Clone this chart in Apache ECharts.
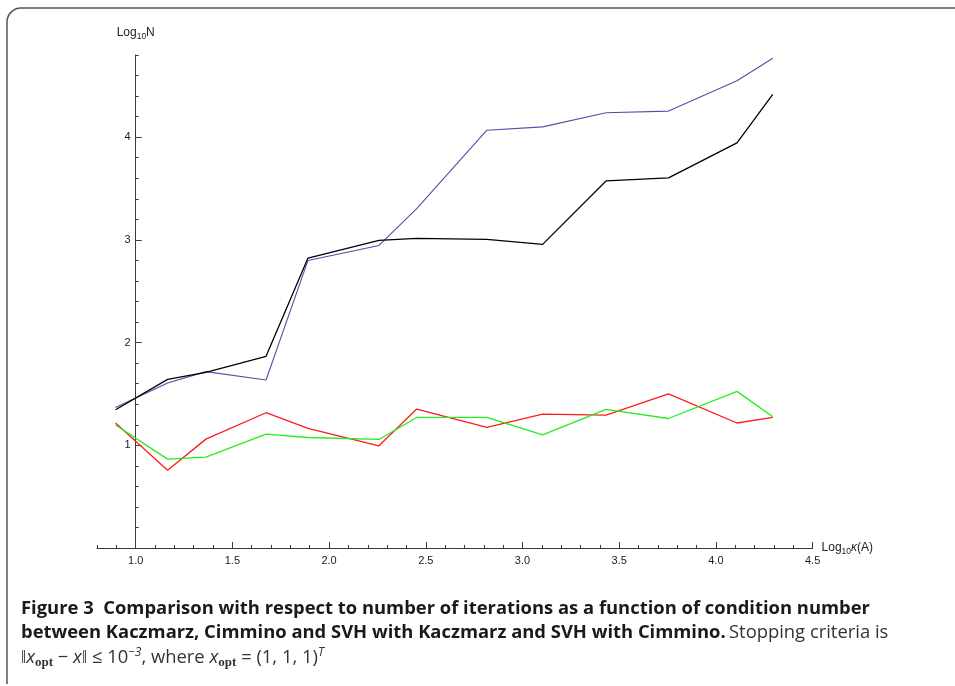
<!DOCTYPE html>
<html>
<head>
<meta charset="utf-8">
<script src="https://cdn.jsdelivr.net/npm/echarts@6/dist/echarts.min.js"></script>
<style>
  html, body { margin: 0; padding: 0; background: #fff; }
  #chart { width: 955px; height: 686px; }
</style>
</head>
<body>
<div id="chart"></div>
<script>
// log10 of condition number (x) and log10 of iteration count (y)
var kappa = [0.896, 1.165, 1.363, 1.674, 1.891, 2.258, 2.453, 2.816, 3.104, 3.432, 3.755, 4.109, 4.294];
var kaczmarz = [1.346, 1.642, 1.71, 1.866, 2.823, 2.995, 3.015, 3.005, 2.956, 3.574, 3.603, 3.944, 4.417];
var cimmino = [1.369, 1.607, 1.717, 1.636, 2.80, 2.946, 3.304, 4.068, 4.10, 4.237, 4.254, 4.549, 4.768];
var svhKaczmarz = [1.217, 0.758, 1.06, 1.317, 1.164, 0.995, 1.353, 1.174, 1.304, 1.294, 1.50, 1.217, 1.271];
var svhCimmino = [1.197, 0.865, 0.885, 1.109, 1.076, 1.057, 1.271, 1.271, 1.102, 1.349, 1.261, 1.525, 1.278];

var xMajorTicks = [1.0, 1.5, 2.0, 2.5, 3.0, 3.5, 4.0, 4.5];
var xMinorTicks = [0.8, 0.9, 1.1, 1.2, 1.3, 1.4, 1.6, 1.7, 1.8, 1.9, 2.1, 2.2, 2.3, 2.4,
                   2.6, 2.7, 2.8, 2.9, 3.1, 3.2, 3.3, 3.4, 3.6, 3.7, 3.8, 3.9, 4.1, 4.2, 4.3, 4.4];
var yMajorTicks = [1, 2, 3, 4];
var yMinorTicks = [0.2, 0.4, 0.6, 0.8, 1.2, 1.4, 1.6, 1.8, 2.2, 2.4, 2.6, 2.8,
                   3.2, 3.4, 3.6, 3.8, 4.2, 4.4, 4.6, 4.8];

function pairs(ys) {
    var out = [];
    for (var i = 0; i < kappa.length; i++) {
        out.push([kappa[i], ys[i]]);
    }
    return out;
}

var axisColor = '#3a3a3a';
var labelFont = 'Liberation Sans';
var capFont = 'Open Sans';
var capSize = 18.4;

var option = {
    animation: false,
    backgroundColor: '#fff',
    grid: [
        { left: 97, right: 142.4, top: 55, bottom: 138 },
        { left: 135.7, right: 142.4, top: 55, bottom: 138 }
    ],
    xAxis: [
        {   // axis line + minor ticks
            type: 'value', gridIndex: 0, position: 'bottom', min: 0.8, max: 4.5,
            axisLine: { show: true, lineStyle: { color: axisColor, width: 1 } },
            axisTick: { show: true, inside: true, length: 3, customValues: xMinorTicks, lineStyle: { color: axisColor } },
            axisLabel: { show: false },
            splitLine: { show: false },
            name: '{a|Log}{s|10}{k|κ}{a|(A)}',
            nameLocation: 'end',
            nameGap: 9,
            nameTextStyle: {
                rich: {
                    a: { fontFamily: labelFont, fontSize: 12, color: '#222' },
                    k: { fontFamily: labelFont, fontSize: 12, fontStyle: 'italic', color: '#222' },
                    s: { fontFamily: labelFont, fontSize: 8.5, color: '#222', padding: [7, 0, 0, 0] }
                }
            }
        },
        {   // major ticks + labels
            type: 'value', gridIndex: 0, position: 'bottom', min: 0.8, max: 4.5,
            axisLine: { show: false },
            axisTick: { show: true, inside: true, length: 6, customValues: xMajorTicks, lineStyle: { color: axisColor } },
            axisLabel: {
                show: true, customValues: xMajorTicks, margin: 7,
                fontFamily: labelFont, fontSize: 11, color: '#222',
                formatter: function (v) { return v.toFixed(1); }
            },
            splitLine: { show: false }
        },
        { type: 'value', gridIndex: 1, min: 0, max: 1, show: false }
    ],
    yAxis: [
        { type: 'value', gridIndex: 0, min: 0, max: 4.8, show: false },
        {   // axis line + minor ticks, sitting at x = 1.0
            type: 'value', gridIndex: 1, position: 'left', min: 0, max: 4.8,
            axisLine: { show: true, lineStyle: { color: axisColor, width: 1 } },
            axisTick: { show: true, inside: true, length: 3, customValues: yMinorTicks, lineStyle: { color: axisColor } },
            axisLabel: { show: false },
            splitLine: { show: false },
            name: '{a|Log}{s|10}{a|N}',
            nameLocation: 'end',
            nameGap: 14,
            nameTextStyle: {
                rich: {
                    a: { fontFamily: labelFont, fontSize: 12, color: '#222' },
                    s: { fontFamily: labelFont, fontSize: 8.5, color: '#222', padding: [7, 0, 0, 0] }
                }
            }
        },
        {
            type: 'value', gridIndex: 1, position: 'left', min: 0, max: 4.8,
            axisLine: { show: false },
            axisTick: { show: true, inside: true, length: 6, customValues: yMajorTicks, lineStyle: { color: axisColor } },
            axisLabel: {
                show: true, customValues: yMajorTicks, margin: 5,
                fontFamily: labelFont, fontSize: 11, color: '#222'
            },
            splitLine: { show: false }
        }
    ],
    series: [
        {
            name: 'Cimmino', type: 'line', xAxisIndex: 0, yAxisIndex: 0,
            data: pairs(cimmino), showSymbol: false, symbol: 'none',
            lineStyle: { color: '#5050a8', width: 1.1 }
        },
        {
            name: 'Kaczmarz', type: 'line', xAxisIndex: 0, yAxisIndex: 0,
            data: pairs(kaczmarz), showSymbol: false, symbol: 'none',
            lineStyle: { color: '#000', width: 1.3 }
        },
        {
            name: 'SVH with Kaczmarz', type: 'line', xAxisIndex: 0, yAxisIndex: 0,
            data: pairs(svhKaczmarz), showSymbol: false, symbol: 'none',
            lineStyle: { color: '#ff1a1a', width: 1.3 }
        },
        {
            name: 'SVH with Cimmino', type: 'line', xAxisIndex: 0, yAxisIndex: 0,
            data: pairs(svhCimmino), showSymbol: false, symbol: 'none',
            lineStyle: { color: '#22ee22', width: 1.3 }
        }
    ],
    graphic: [
        {
            type: 'rect', silent: true,
            shape: { x: 7, y: 8, width: 1000, height: 720, r: [14, 0, 0, 0] },
            style: { fill: 'none', stroke: '#555', lineWidth: 1.5 }
        },
        {   // frame stops a few pixels above the bottom edge
            type: 'rect', silent: true,
            shape: { x: 0, y: 684, width: 955, height: 10 },
            style: { fill: '#fff' }
        },
        {
            type: 'text', left: 21, top: 600,
            style: {
                text: 'Figure 3  Comparison with respect to number of iterations as a function of condition number',
                fontFamily: capFont, fontWeight: 'bold', fontSize: capSize, fill: '#1a1a1a'
            }
        },
        {
            type: 'text', left: 21, top: 624,
            style: {
                text: '{b|between Kaczmarz, Cimmino and SVH with Kaczmarz and SVH with Cimmino.} {n|Stopping criteria is}',
                rich: {
                    b: { fontFamily: capFont, fontWeight: 'bold', fontSize: capSize, fill: '#1a1a1a' },
                    n: { fontFamily: capFont, fontSize: capSize, fill: '#333' }
                }
            }
        },
        {
            type: 'text', left: 21, top: 647,
            style: {
                text: '{n|‖}{i|x}{sub|opt}{n| − }{i|x}{n|‖ ≤ 10}{sup|−3}{n|, where }{i|x}{sub|opt}{n| = (1, 1, 1)}{sup|T}',
                rich: {
                    n: { fontFamily: capFont, fontSize: capSize, fill: '#333' },
                    i: { fontFamily: capFont, fontSize: capSize, fontStyle: 'italic', fill: '#333' },
                    sub: { fontFamily: 'Liberation Serif', fontWeight: 'bold', fontSize: 13, fill: '#333', padding: [10, 0, 0, 0] },
                    sup: { fontFamily: capFont, fontSize: 12, fontStyle: 'italic', fill: '#333', padding: [0, 0, 10, 0] }
                }
            }
        }
    ]
};

var myChart = echarts.init(document.getElementById('chart'));
myChart.setOption(option);
</script>
</body>
</html>
